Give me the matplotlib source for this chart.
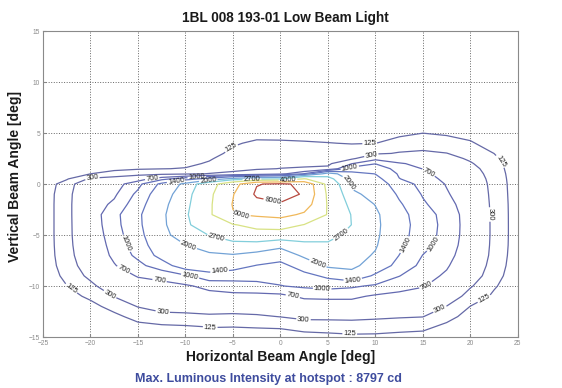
import numpy as np
import matplotlib
matplotlib.use("Agg")
import matplotlib.pyplot as plt

plt.rcParams['font.family'] = ['Liberation Sans', 'DejaVu Sans']

# Goniometer grid: horizontal and vertical beam angles [deg]
h_angles = [-25, -22.5, -20, -17.5, -15, -12.5, -10, -7.5, -5, -2.5, 0,
            2.5, 5, 7.5, 10, 12.5, 15, 17.5, 20, 22.5, 25]
v_angles = [15, 6, 5, 4, 3, 2.5, 2, 1.5, 1, 0.5, 0, -1, -2, -3, -4, -5,
            -6, -7, -8, -9, -10, -11, -12, -13, -14, -15]

# Luminous intensity [cd], one row per vertical angle
intensity = [
    [0] * 21,
    [5, 10, 15, 15, 15, 15, 15, 20, 30, 40, 40, 40, 40, 40, 45, 55, 75, 60, 45, 30, 10],
    [8, 15, 20, 25, 25, 25, 30, 40, 70, 95, 90, 85, 80, 75, 85, 110, 124, 110, 95, 55, 15],
    [10, 20, 30, 35, 40, 45, 50, 70, 115, 140, 140, 135, 128, 120, 124, 150, 200, 170, 135, 85, 20],
    [12, 30, 45, 50, 60, 65, 70, 95, 145, 180, 185, 190, 175, 185, 260, 320, 340, 305, 210, 124, 25],
    [14, 38, 57, 65, 77, 82, 88, 115, 168, 205, 218, 225, 200, 240, 600, 520, 480, 370, 270, 150, 28],
    [16, 45, 70, 80, 95, 100, 105, 135, 190, 230, 250, 260, 230, 690, 990, 730, 620, 440, 320, 175, 30],
    [18, 55, 95, 105, 115, 122, 130, 180, 240, 275, 305, 320, 380, 1150, 1200, 880, 690, 500, 370, 195, 32],
    [20, 70, 125, 160, 200, 230, 260, 310, 350, 450, 600, 1020, 2300, 1550, 1390, 960, 780, 560, 410, 210, 35],
    [25, 110, 330, 400, 550, 900, 1200, 1600, 2200, 2500, 2650, 4100, 3000, 1750, 1550, 1010, 850, 620, 450, 220, 38],
    [28, 200, 500, 560, 900, 1500, 2150, 3300, 5200, 7900, 8300, 7600, 3400, 1900, 1700, 1150, 910, 680, 480, 228, 40],
    [30, 230, 530, 650, 1080, 1700, 2350, 3600, 5900, 8300, 8797, 7800, 3700, 2100, 1850, 1330, 970, 730, 510, 235, 42],
    [30, 235, 540, 760, 1200, 1820, 2450, 3700, 6100, 7400, 7800, 7000, 3850, 2400, 1980, 1460, 1050, 800, 540, 240, 45],
    [30, 235, 540, 895, 1313, 1880, 2560, 3740, 5900, 6300, 6600, 5700, 3900, 2650, 2100, 1555, 1168, 867, 557, 244, 45],
    [30, 235, 530, 880, 1300, 1870, 2500, 3400, 3900, 4500, 4700, 3950, 3400, 2690, 2120, 1580, 1200, 880, 560, 245, 45],
    [30, 235, 520, 840, 1250, 1820, 2300, 2720, 3100, 3300, 3200, 3100, 2900, 2550, 2100, 1560, 1180, 870, 560, 245, 45],
    [30, 230, 500, 800, 1180, 1700, 1990, 2250, 2450, 2400, 2150, 2500, 2600, 2350, 2050, 1500, 1120, 840, 550, 240, 45],
    [30, 220, 470, 760, 1080, 1550, 1750, 1900, 1950, 1800, 1650, 2100, 2350, 2200, 1950, 1395, 990, 790, 530, 230, 42],
    [28, 200, 420, 680, 900, 1200, 1650, 1750, 1600, 1380, 1250, 1650, 2100, 2150, 1700, 1250, 900, 730, 480, 210, 40],
    [25, 165, 350, 560, 720, 760, 950, 1200, 1150, 1150, 1100, 1250, 1500, 1750, 1320, 1010, 800, 660, 420, 180, 38],
    [22, 122, 250, 440, 580, 640, 660, 780, 850, 880, 990, 1050, 1100, 1050, 950, 820, 720, 560, 320, 140, 35],
    [20, 90, 145, 310, 450, 520, 560, 600, 620, 620, 620, 760, 770, 760, 660, 610, 560, 440, 220, 100, 30],
    [18, 70, 95, 160, 310, 400, 420, 430, 420, 420, 450, 520, 540, 560, 520, 480, 440, 295, 122, 75, 25],
    [15, 55, 70, 100, 160, 220, 230, 260, 250, 270, 305, 360, 360, 360, 340, 320, 305, 160, 85, 55, 20],
    [12, 45, 55, 70, 95, 100, 110, 128, 126, 130, 135, 160, 170, 190, 180, 160, 150, 100, 60, 45, 15],
    [10, 35, 45, 55, 70, 75, 80, 85, 85, 85, 80, 90, 95, 100, 100, 95, 90, 70, 45, 35, 10],
]

# Iso-candela levels [cd]
iso_levels = [125, 300, 700, 1000, 1400, 2000, 2700, 4000, 6000, 8000]

level_colors = ['#6569a6', '#6569a8', '#6369b0', '#626eb8', '#6476c0',
                '#72a2d6', '#82cedb', '#d8e284', '#f0b85a', '#b84a40']

# Where each level's labels sit along its line
label_spots = {
    125: [(-5.3, 3.7), (9.4, 3.9), (22.8, 2.0), (-22.0, -10.2),
          (-7.4, -14.0), (7.3, -14.6), (21.3, -11.0)],
    300: [(-19.8, 0.5), (9.6, 2.7), (21.8, -3.0), (-17.8, -10.6),
          (-12.4, -12.6), (2.4, -13.5), (16.8, -12.3)],
    700: [(-13.5, 0.5), (15.7, 1.3), (-16.4, -8.2), (-12.7, -9.3),
          (1.3, -11.0), (15.5, -10.2)],
    1000: [(-8.8, 0.6), (7.3, 1.6), (-16.8, -6.0), (-9.5, -9.0),
           (4.4, -10.2), (16.3, -6.0)],
    1400: [(-11.0, 0.4), (-6.4, -8.6), (7.6, -9.4), (13.2, -6.0)],
    2000: [(-7.6, 0.35), (7.0, 0.0), (-9.8, -6.3), (3.8, -8.1)],
    2700: [(-3.0, 0.45), (-6.8, -5.4), (6.6, -5.2)],
    4000: [(0.8, 0.4)],
    6000: [(-4.1, -2.9)],
    8000: [(-0.9, -2.0)],
}

H, V = np.meshgrid(h_angles, v_angles)
I = np.array(intensity, dtype=float)
peak = int(round(I.max()))

fig = plt.figure(figsize=(5.62, 3.88), dpi=100)
ax = fig.add_axes([0.0765, 0.1314, 0.845, 0.7887])

# one contour set per level so each gets its own labels
for lev, col in zip(iso_levels, level_colors):
    cs = ax.contour(H, V, I, levels=[lev], colors=[col], linewidths=0.9)
    ax.clabel(cs, manual=label_spots[lev], inline=True, inline_spacing=1,
              fmt='%d', fontsize=5.5, colors='#222222')

ax.set_xlim(-25, 25)
ax.set_ylim(-15, 15)
ax.set_xticks(np.arange(-25, 26, 5))
ax.set_yticks(np.arange(-15, 16, 5))
ax.grid(True, linestyle=':', color='#666666', linewidth=0.7)
ax.tick_params(direction='in', length=2, labelsize=4.8, labelcolor='#8a8a8a',
               color='#888888', pad=2)
for sp in ax.spines.values():
    sp.set_color('#8a8a8a')
    sp.set_linewidth(0.8)

fig.text(0.507, 0.954, '1BL 008 193-01 Low Beam Light', ha='center',
         va='center', fontsize=9.8, fontweight='bold', color='#1a1a1a')
fig.text(0.5, 0.080, 'Horizontal Beam Angle [deg]', ha='center', va='center',
         fontsize=10, fontweight='bold', color='#1a1a1a')
fig.text(0.027, 0.546, 'Vertical Beam Angle [deg]', ha='center', va='center',
         rotation=90, fontsize=10, fontweight='bold', color='#1a1a1a')
fig.text(0.477, 0.023, f'Max. Luminous Intensity at hotspot : {peak} cd',
         ha='center', va='center', fontsize=9, fontweight='bold',
         color='#3e4c9e')

fig.savefig('out.png', dpi=100)
